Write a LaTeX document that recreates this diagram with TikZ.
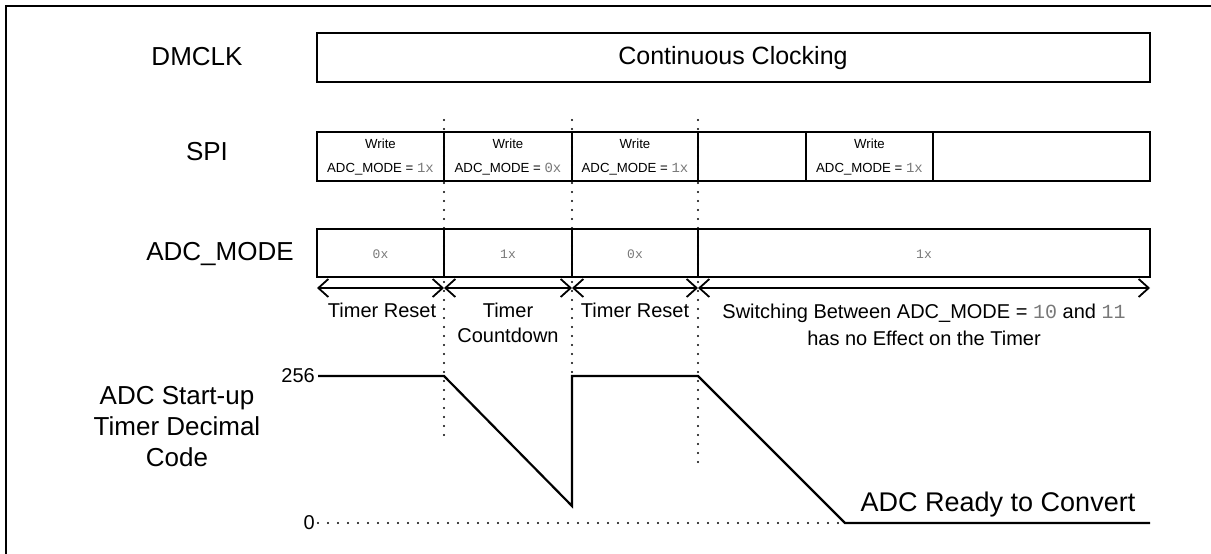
\documentclass[tikz,border=0pt]{standalone}
\usepackage{fontspec}
\setmainfont{Liberation Sans}
\newfontfamily\monofnt{Liberation Mono}
\usetikzlibrary{arrows.meta}
\definecolor{codegray}{RGB}{120,120,120}
\newcommand{\cd}[1]{{\monofnt\color{codegray}#1}}
\begin{document}
\begin{tikzpicture}[x=1pt,y=-1pt,
  box/.style={draw,line width=2.3pt},
  biglbl/.style={inner sep=0pt,font=\fontsize{26}{31}\selectfont},
  smalltxt/.style={inner sep=0pt,font=\fontsize{13.2}{15}\selectfont},
  codetxt/.style={inner sep=0pt,font=\monofnt\fontsize{13}{15}\selectfont,text=codegray},
  midtxt/.style={inner sep=0pt,font=\fontsize{20}{25}\selectfont},
  vdot/.style={line width=2.4pt,dash pattern=on 0pt off 9pt,line cap=round},
  spanarrow/.style={line width=1.8pt,{Straight Barb[length=10pt,width=18pt]}-{Straight Barb[length=10pt,width=18pt]}},
  trace/.style={line width=2.2pt,line join=miter},
]
\useasboundingbox (0,0) rectangle (1211,554);
% frame
\draw[line width=2pt] (6,554) -- (6,6) -- (1211,6);

% named coordinates
\coordinate (a0) at (317,288);
\coordinate (a1) at (444,288);
\coordinate (a2) at (572,288);
\coordinate (a3) at (698,288);
\coordinate (a4) at (1150,288);

% dotted vertical guides
\draw[vdot] (444,120) -- (444,442);
\draw[vdot] (572,120) -- (572,376);
\draw[vdot] (698,120) -- (698,467);

% row labels
\node[biglbl] (dmclk) at (197,57) {DMCLK};
\node[biglbl] (spi) at (207,152) {SPI};
\node[biglbl] (adcmode) at (220,254) {ADC\_MODE};
\node[biglbl,align=center] (timerlbl) at (177,427) {ADC Start-up\\Timer Decimal\\Code};

% DMCLK
\draw[box] (317,33) rectangle (1150,82);
\node[inner sep=0pt,font=\fontsize{25}{30}\selectfont] (cc) at (733,58) {Continuous Clocking};

% SPI
\draw[box] (317,132) rectangle (1150,181);
\foreach \x in {444,572,698,806,933} \draw[box] (\x,132) -- (\x,181);
\foreach \c/\v [count=\i] in {380.5/1x,508/0x,635/1x,869.5/1x}{
  \node[smalltxt] (w\i) at (\c,144) {Write};
  \node[smalltxt] (m\i) at (\c,169) {ADC\_MODE = \cd{\fontsize{14}{15}\selectfont\v}};
}

% ADC_MODE
\draw[box] (317,229) rectangle (1150,277);
\foreach \x in {444,572,698} \draw[box] (\x,229) -- (\x,277);
\node[codetxt] (v1) at (380.5,254) {0x};
\node[codetxt] (v2) at (508,254) {1x};
\node[codetxt] (v3) at (635,254) {0x};
\node[codetxt] (v4) at (924,254) {1x};

% spans
\draw[spanarrow] (a0) -- (a1);
\draw[spanarrow] (a1) -- (a2);
\draw[spanarrow] (a2) -- (a3);
\draw[spanarrow] (a3) -- (a4);

\node[midtxt] (tr1) at (382,310) {Timer Reset};
\node[midtxt] (tc1) at (508,310) {Timer};
\node[midtxt] (tc2) at (508,335) {Countdown};
\node[midtxt] (tr2) at (635,310) {Timer Reset};
\node[midtxt] (sw1) at (924,313) {Switching Between ADC\_MODE = \cd{10} and \cd{11}};
\node[midtxt] (sw2) at (924,338) {has no Effect on the Timer};

% timer trace
\node[midtxt,anchor=east] (l256) at (315,376) {256};
\node[midtxt,anchor=east] (l0) at (315,523) {0};
\coordinate (t0) at (318,376);
\coordinate (t1) at (444,376);
\coordinate (t2) at (572,506);
\coordinate (t3) at (572,376);
\coordinate (t4) at (698,376);
\coordinate (t5) at (845,523);
\coordinate (t6) at (1150,523);
\coordinate (z0) at (318,523);
\draw[trace] (t0) -- (t1) -- (t2) -- (t3) -- (t4) -- (t5) -- (t6);
\draw[line width=2.2pt,dash pattern=on 0pt off 10pt,line cap=round] (z0) -- (t5);
\node[inner sep=0pt,font=\fontsize{27}{32}\selectfont] (ready) at (998,505) {ADC Ready to Convert};
\end{tikzpicture}
\end{document}
